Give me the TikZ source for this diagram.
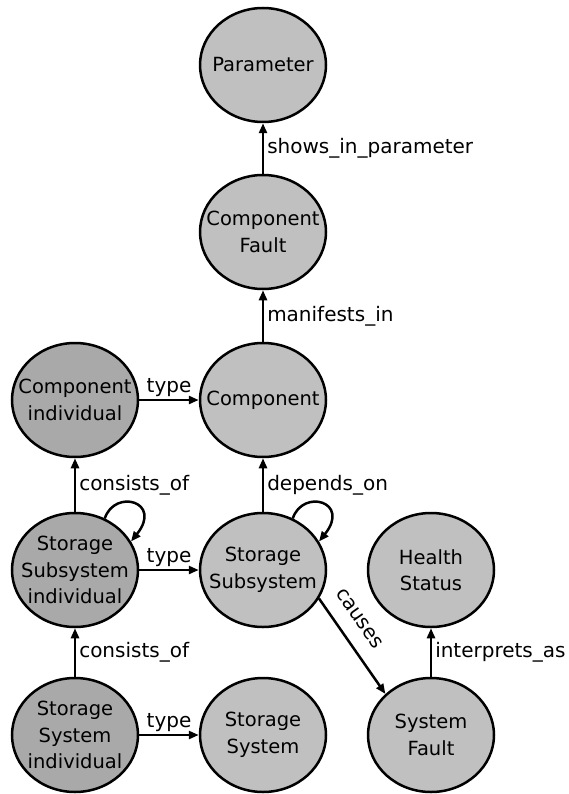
\documentclass[tikz,border=0pt]{standalone}
\usepackage{fontspec}
\setmainfont{DejaVu Sans}
\usetikzlibrary{shapes.geometric,arrows.meta}
\definecolor{lightfill}{HTML}{C0C0C0}
\definecolor{darkfill}{HTML}{A9A9A9}
\begin{document}
\begin{tikzpicture}[x=1pt,y=-1pt,
  concept/.style={ellipse,draw=black,line width=2.5pt,fill=lightfill,
    minimum width=126pt,minimum height=114pt,inner sep=-20pt,align=center,
    font=\fontsize{19.5}{26.5}\selectfont},
  indiv/.style={concept,fill=darkfill},
  rel/.style={line width=2.5pt,-{Triangle[length=10pt,width=8pt]}},
  lab/.style={font=\fontsize{20}{24}\selectfont,inner sep=3pt}]
\useasboundingbox (0,0) rectangle (569,794);

\node[concept] (p)    at (263,65)  {Parameter};
\node[concept] (cf)   at (263,232) {Component\\Fault};
\node[concept] (c)    at (263,400) {Component};
\node[indiv]   (ci)   at (75,400)  {Component\\individual};
\node[indiv]   (ssi)  at (75,570)  {Storage\\Subsystem\\individual};
\node[concept] (ss)   at (263,570) {Storage\\Subsystem};
\node[concept] (hs)   at (431,570) {Health\\Status};
\node[indiv]   (sysi) at (75,735)  {Storage\\System\\individual};
\node[concept] (sys)  at (263,735) {Storage\\System};
\node[concept] (sf)   at (431,735) {System\\Fault};

\draw[rel] (cf) -- (p) node[lab,midway,right] {shows\_in\_parameter};
\draw[rel] (c) -- (cf) node[lab,midway,right] {manifests\_in};
\draw[rel] (ss) -- (c) node[lab,midway,right] {depends\_on};
\draw[rel] (ssi) -- (ci) node[lab,midway,right] {consists\_of};
\draw[rel] (sysi) -- (ssi) node[lab,midway,right] {consists\_of};
\draw[rel] (sf) -- (hs) node[lab,midway,right] {interprets\_as};

\draw[rel] (ci) -- (c) node[lab,midway,above,inner sep=2pt] {type};
\draw[rel] (ssi) -- (ss) node[lab,midway,above,inner sep=2pt] {type};
\draw[rel] (sysi) -- (sys) node[lab,midway,above,inner sep=2pt] {type};

\draw[rel] (ss.-27) -- (sf.138) node[lab,pos=0.34,sloped,above=12pt] {causes};

\draw[rel] (ssi.60) .. controls +(10,-30) and +(32,-40) .. (ssi.27);
\draw[rel] (ss.60) .. controls +(10,-30) and +(32,-40) .. (ss.27);
\end{tikzpicture}
\end{document}
